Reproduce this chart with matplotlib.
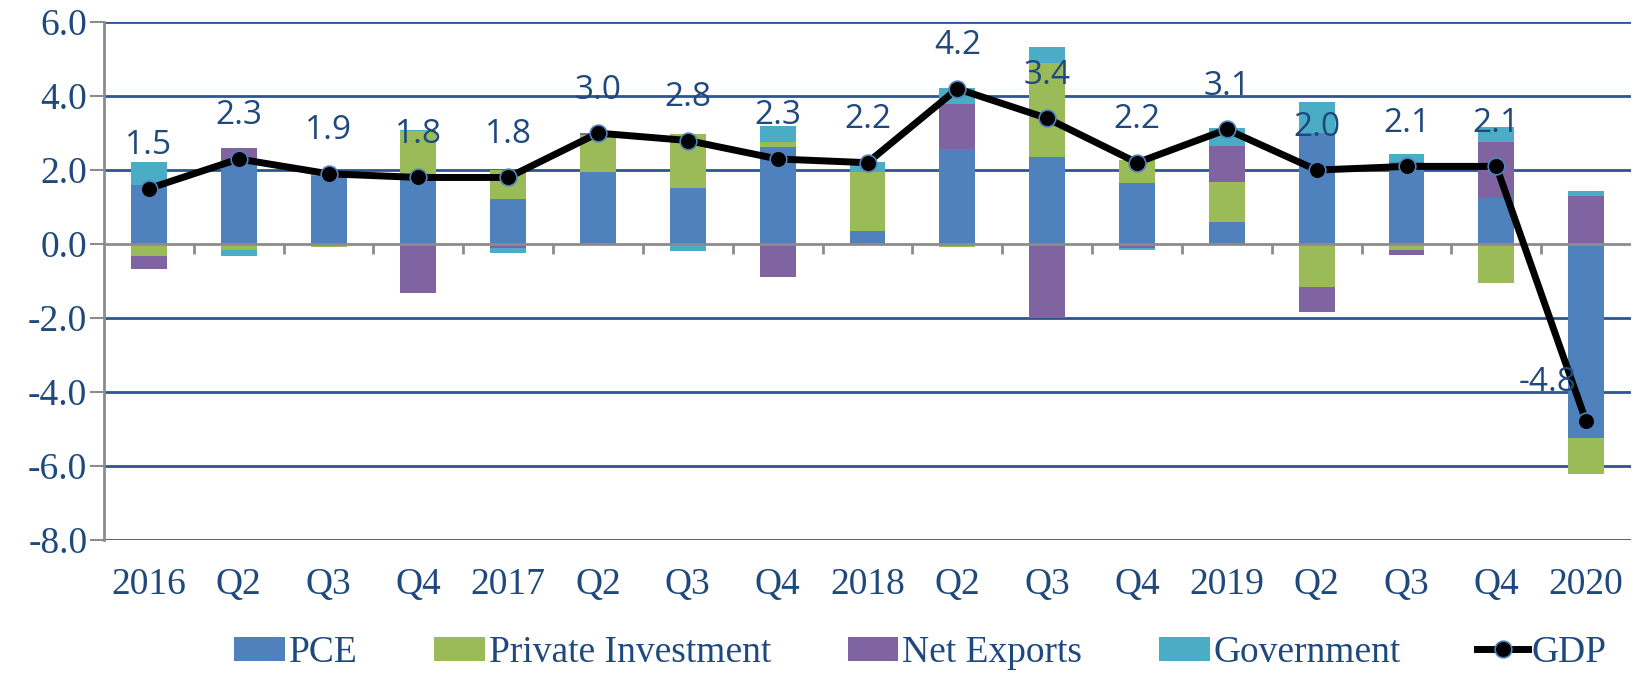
import numpy as np
import matplotlib
matplotlib.use("Agg")
from matplotlib import pyplot as plt

plt.rcParams['axes.unicode_minus'] = False

categories = ['2016', 'Q2', 'Q3', 'Q4', '2017', 'Q2', 'Q3', 'Q4', '2018',
              'Q2', 'Q3', 'Q4', '2019', 'Q2', 'Q3', 'Q4', '2020']

pce = [1.60, 2.25, 1.85, 1.90, 1.21, 1.95, 1.51, 2.62, 0.35,
       2.56, 2.35, 1.65, 0.59, 3.00, 2.21, 1.24, -5.25]
private_inv = [-0.32, -0.17, -0.08, 1.15, 0.80, 0.99, 1.47, 0.14, 1.61,
               -0.08, 2.54, 0.63, 1.10, -1.17, -0.15, -1.05, -0.96]
net_exports = [-0.35, 0.34, 0.00, -1.32, -0.10, 0.05, 0.00, -0.89, 0.00,
               1.22, -1.99, -0.10, 0.95, -0.66, -0.14, 1.51, 1.30]
government = [0.61, -0.16, 0.05, 0.03, -0.14, 0.00, -0.19, 0.42, 0.27,
              0.44, 0.43, -0.05, 0.49, 0.85, 0.22, 0.41, 0.14]
gdp = [1.5, 2.3, 1.9, 1.8, 1.8, 3.0, 2.8, 2.3, 2.2,
       4.2, 3.4, 2.2, 3.1, 2.0, 2.1, 2.1, -4.8]

series = [('PCE', pce, '#4F81BD'),
          ('Private Investment', private_inv, '#9BBB59'),
          ('Net Exports', net_exports, '#8064A2'),
          ('Government', government, '#4BACC6')]

text_col = '#1F497D'
grid_col = '#2E5590'
axis_col = '#8C8C8C'

fig = plt.figure(figsize=(16.35, 6.73), dpi=100)
ax = fig.add_axes([0.0636, 0.198, 0.934, 0.769])

x = np.arange(len(categories))
pos_base = np.zeros(len(x))
neg_base = np.zeros(len(x))
handles = []
for name, vals, col in series:
    v = np.array(vals)
    base = np.where(v >= 0, pos_base, neg_base)
    h = ax.bar(x, v, width=0.4, bottom=base, color=col, label=name, zorder=3)
    handles.append(h)
    pos_base = pos_base + np.where(v >= 0, v, 0)
    neg_base = neg_base + np.where(v < 0, v, 0)

line, = ax.plot(x, gdp, color='black', lw=5, marker='o', markersize=12,
                markerfacecolor='black', markeredgecolor='#4F81BD', markeredgewidth=1.2,
                label='GDP', zorder=5)
handles.append(line)

for i, g in enumerate(gdp):
    off = (0, 31) if g >= 0 else (-28, 28)
    ax.annotate('%.1f' % g, (x[i], g), xytext=off, textcoords='offset points',
                ha='center', va='center', fontsize=24, color=text_col,
                family='Open Sans', zorder=6)

ax.set_xlim(-0.5, len(x) - 0.5)
ax.set_ylim(-8, 6)
ax.set_yticks(np.arange(-8, 7, 2))
ax.set_yticklabels(['%.1f' % t for t in np.arange(-8, 7, 2)])
for t in np.arange(-8, 7, 2):
    if t != 0:
        ax.axhline(t, color=grid_col, lw=2, zorder=1)
ax.axhline(0, color=axis_col, lw=2, zorder=4)
ax.vlines(np.arange(0.5, len(x) - 0.5), 0, -0.27, color=axis_col, lw=2, zorder=4)

ax.set_xticks(x)
ax.set_xticklabels(categories)
ax.tick_params(axis='x', length=0, pad=20)
ax.tick_params(axis='y', length=10, width=1.5, color=axis_col, pad=2)
for lab in ax.get_xticklabels() + ax.get_yticklabels():
    lab.set_family('Liberation Serif')
    lab.set_fontsize(27)
    lab.set_color(text_col)

for s in ['top', 'right', 'bottom']:
    ax.spines[s].set_visible(False)
ax.spines['left'].set_color(axis_col)
ax.spines['left'].set_linewidth(2)

leg = fig.legend(handles=handles, loc='center', bbox_to_anchor=(0.563, 0.03), ncol=5,
                 frameon=False, prop={'family': 'Liberation Serif', 'size': 27},
                 handlelength=1.35, handleheight=0.6, handletextpad=0.1,
                 columnspacing=2.05)
for t in leg.get_texts():
    t.set_color(text_col)

fig.savefig('out.png', dpi=100)
